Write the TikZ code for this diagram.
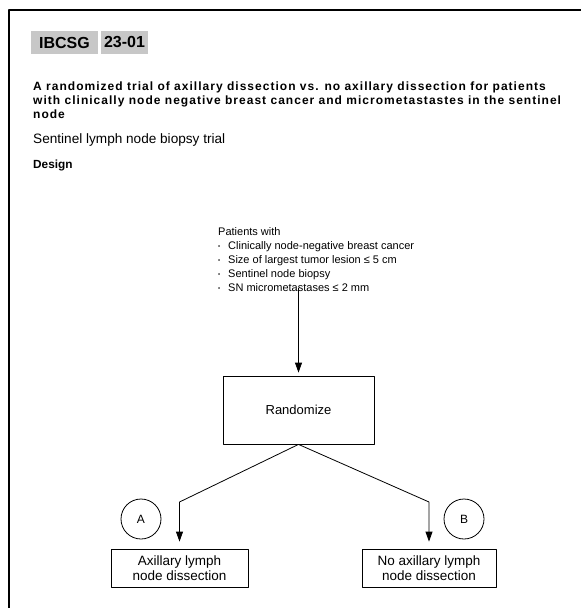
\documentclass[tikz,border=0pt]{standalone}
\usepackage{fontspec}
\setmainfont{Liberation Sans}
\usetikzlibrary{arrows.meta,positioning}

\begin{document}
\begin{tikzpicture}[x=1pt,y=-1pt,line join=round,font=\fontsize{11}{14}\selectfont,
	box/.style={draw,line width=0.8pt,align=center,inner sep=0pt,font=\fontsize{13.5}{15}\selectfont},
	tag/.style={draw,circle,line width=0.8pt,minimum size=40pt,inner sep=0pt,font=\fontsize{12}{12}\selectfont},
	flow/.style={line width=0.8pt,-{Triangle[length=10pt,width=7pt]}},
	shade/.style={fill=black!22,inner sep=0pt,minimum height=23pt,font=\fontsize{16}{16}\selectfont\bfseries}]
	\def\dotitem{\makebox[10pt][l]{\fontsize{6}{6}\selectfont\raisebox{1pt}{•}}}
	\useasboundingbox (0,0) rectangle (581,608);
	\draw[line width=1.3pt] (9,640) -- (9,10) -- (620,10);
	% header
	\node[shade,minimum width=67pt] (ibcsg) at (64.5,42.5) {IBCSG};
	\node[shade,minimum width=47pt] (trialno) at (124.5,42.5) {23-01};
	\node[anchor=north west,align=left,inner sep=0pt,font=\fontsize{12}{14}\selectfont\bfseries\addfontfeature{LetterSpace=8.5}] (title) at (33,82)
	{A randomized trial of axillary dissection vs. no axillary dissection for patients\\
	with clinically node negative breast cancer and micrometastastes in the sentinel\\
	node};
	\node[anchor=west,inner sep=0pt,font=\fontsize{13.6}{14}\selectfont] (subtitle) at (33,140) {Sentinel lymph node biopsy trial};
	\node[anchor=west,inner sep=0pt,font=\fontsize{11.8}{14}\selectfont\bfseries] (design) at (33,165) {Design};
	% design
	\node[anchor=north west,align=left,inner sep=0pt] (patients) at (218,227)
	{Patients with\\
	\dotitem Clinically node-negative breast cancer\\
	\dotitem Size of largest tumor lesion ≤ 5 cm\\
	\dotitem Sentinel node biopsy\\
	\dotitem SN micrometastases ≤ 2 mm};
	\node[box,minimum width=151pt,minimum height=68pt,font=\fontsize{13}{15}\selectfont] (rand) at (298.5,410) {Randomize};
	\node[box,minimum width=137pt,minimum height=38pt] (armA) at (179.5,568) {Axillary lymph\\node dissection};
	\node[box,minimum width=134pt,minimum height=38pt] (armB) at (429,568) {No axillary lymph\\node dissection};
	\node[tag] (tagA) at (141,519) {A};
	\node[tag] (tagB) at (464,519) {B};
	\coordinate (kneeA) at (179.5,502);
	\coordinate (kneeB) at (429,502);
	\draw[flow,shorten >=3pt] (patients.south -| rand.north) ++(0,-3) -- (rand.north);
	\draw[flow,shorten >=7pt] (rand.south) -- (kneeA) -- (armA.north);
	\draw[flow,shorten >=7pt] (rand.south) -- (kneeB) -- (armB.north);
\end{tikzpicture}
\end{document}
